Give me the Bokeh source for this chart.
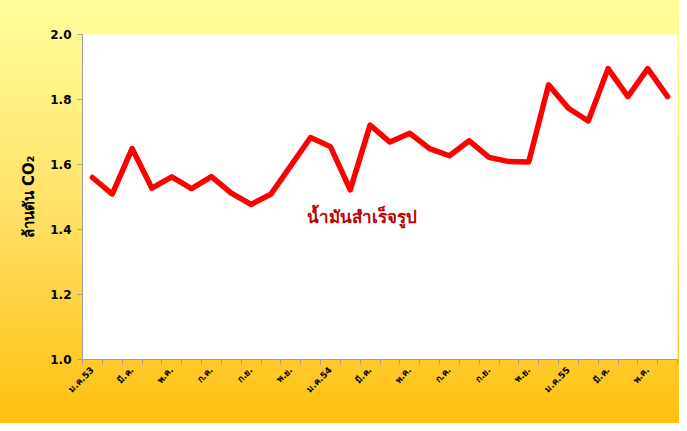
from math import pi
from bokeh.plotting import figure
from bokeh.models import FixedTicker, Range1d, Label, ColumnDataSource
from bokeh.embed import file_html
from bokeh.resources import INLINE

months = ["ม.ค.53", "ก.พ.", "มี.ค.", "เม.ย.", "พ.ค.", "มิ.ย.", "ก.ค.", "ส.ค.", "ก.ย.", "ต.ค.", "พ.ย.", "ธ.ค.",
          "ม.ค.54", "ก.พ.", "มี.ค.", "เม.ย.", "พ.ค.", "มิ.ย.", "ก.ค.", "ส.ค.", "ก.ย.", "ต.ค.", "พ.ย.", "ธ.ค.",
          "ม.ค.55", "ก.พ.", "มี.ค.", "เม.ย.", "พ.ค.", "มิ.ย."]
co2 = [1.560, 1.509, 1.649, 1.527, 1.562, 1.526, 1.563, 1.512, 1.477, 1.509,
       1.596, 1.683, 1.655, 1.522, 1.721, 1.669, 1.696, 1.649, 1.627, 1.673,
       1.622, 1.609, 1.608, 1.845, 1.773, 1.734, 1.895, 1.809, 1.895, 1.809]
y_ticks = [1.0, 1.2, 1.4, 1.6, 1.8, 2.0]
series_name = "น้ำมันสำเร็จรูป"
y_title = "ล้านตัน CO₂"
series_label_pos = (14.1, 1.44)

FONT = "Tahoma, 'DejaVu Sans', sans-serif"

n = len(months)
xs = [i + 0.5 for i in range(n)]

p = figure(width=679, height=423, output_backend="svg", toolbar_location=None,
           x_range=Range1d(0, n), y_range=Range1d(1.0, 2.0),
           min_border_left=82, min_border_right=2, min_border_top=34, min_border_bottom=64)
p.border_fill_color = None
p.styles = {"background": "linear-gradient(to bottom, #FFFF9C 0%, #FFE066 50%, #FFC010 100%)"}
p.background_fill_color = "white"
p.outline_line_color = None
p.grid.visible = False

src = ColumnDataSource(dict(x=xs, y=co2))
p.line("x", "y", source=src, line_color="#FF0000", line_width=5.5, line_join="round", line_cap="round")

# x axis: labels at every other month centre, ticks at month boundaries
label_pos = xs[::2]
p.xaxis.ticker = FixedTicker(ticks=label_pos, minor_ticks=list(range(n + 1)))
p.xaxis.major_label_overrides = {x: months[i] for i, x in zip(range(0, n, 2), label_pos)}
p.xaxis.major_label_orientation = pi / 4
p.xaxis.major_tick_out = 0
p.xaxis.major_tick_in = 0
p.xaxis.minor_tick_out = 5
p.xaxis.minor_tick_in = 0
p.xaxis.minor_tick_line_color = "#A0A0A0"
p.xaxis.axis_line_color = "#A0A0A0"
p.xaxis.major_label_text_font = FONT
p.xaxis.major_label_text_font_style = "bold"
p.xaxis.major_label_text_font_size = "9px"
p.xaxis.major_label_text_color = "black"
p.xaxis.major_label_standoff = 4

p.yaxis.ticker = FixedTicker(ticks=y_ticks)
p.yaxis.major_label_overrides = {v: f"{v:.1f}" for v in y_ticks}
p.yaxis.minor_tick_line_color = None
p.yaxis.major_tick_out = 5
p.yaxis.major_tick_in = 0
p.yaxis.major_tick_line_color = "#A0A0A0"
p.yaxis.axis_line_color = "#A0A0A0"
p.yaxis.major_label_text_font = FONT
p.yaxis.major_label_text_font_style = "bold"
p.yaxis.major_label_text_font_size = "12px"
p.yaxis.major_label_text_color = "black"
p.yaxis.major_label_standoff = 6
p.yaxis.axis_label = y_title
p.yaxis.axis_label_text_font = FONT
p.yaxis.axis_label_text_font_style = "bold"
p.yaxis.axis_label_text_font_size = "15px"
p.yaxis.axis_label_text_color = "black"
p.yaxis.axis_label_standoff = 9

p.add_layout(Label(x=series_label_pos[0], y=series_label_pos[1], text=series_name,
                   text_color="#C00000", text_font=FONT, text_font_style="bold",
                   text_font_size="17px", text_align="center", text_baseline="middle"))

open("out.html", "w").write(file_html(p, INLINE))
